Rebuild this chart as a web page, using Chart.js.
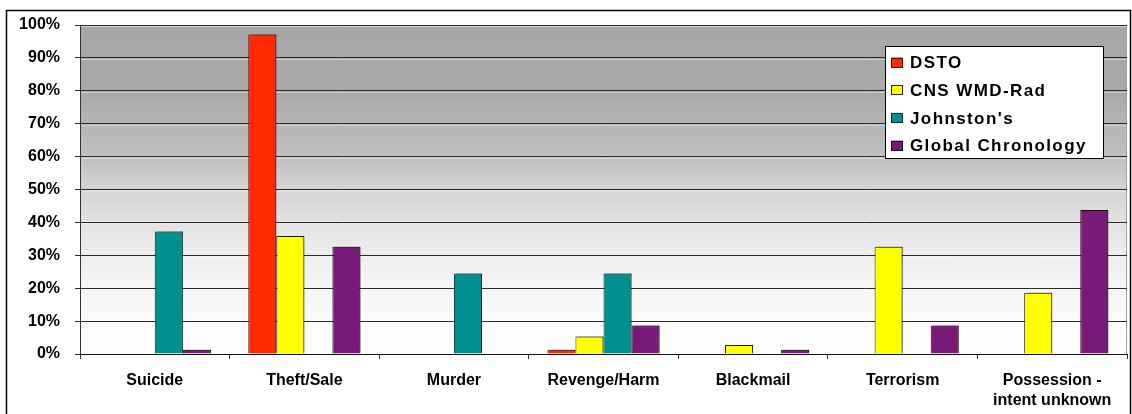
<!DOCTYPE html>
<html>
<head>
<meta charset="utf-8">
<script src="https://cdn.jsdelivr.net/npm/chart.js@4.4.1/dist/chart.umd.min.js"></script>
<style>
html,body{margin:0;padding:0;background:#fff;}
#wrap{position:relative;width:1132px;height:414px;}
</style>
</head>
<body>
<div id="wrap"><canvas id="c" width="1132" height="414"></canvas></div>
<script>
const categories = ['Suicide', 'Theft/Sale', 'Murder', 'Revenge/Harm', 'Blackmail', 'Terrorism', ['Possession -', 'intent unknown']];
const seriesNames = ['DSTO', 'CNS WMD-Rad', "Johnston's", 'Global Chronology'];
const dsto = [0, 97.1, 0, 1.3, 0, 0, 0];
const cnsWmdRad = [0, 35.9, 0, 5.3, 2.7, 32.6, 18.6];
const johnstons = [37.2, 0, 24.5, 24.5, 0, 0, 0];
const globalChronology = [1.3, 32.6, 0, 8.7, 1.3, 8.7, 43.8];
const yTicks = [0, 10, 20, 30, 40, 50, 60, 70, 80, 90, 100];

const fills = ['#ff2a00', '#ffff00', '#009090', '#7a1a78'];
const borders = ['#5a0800', '#2a2a00', '#003030', '#1a061a'];
const FONT = '"Liberation Sans", Arial, sans-serif';

const bgPlugin = {
  id: 'bg',
  beforeDraw(chart) {
    const {ctx, chartArea: a} = chart;
    ctx.save();
    const g = ctx.createLinearGradient(0, a.top, 0, a.bottom);
    g.addColorStop(0, '#a6a6a6');
    g.addColorStop(0.2, '#a9a9a9');
    g.addColorStop(0.4, '#c0c0c0');
    g.addColorStop(0.5, '#d4d4d4');
    g.addColorStop(0.6, '#e2e2e2');
    g.addColorStop(0.7, '#eeeeee');
    g.addColorStop(0.8, '#f6f6f6');
    g.addColorStop(0.9, '#fbfbfb');
    g.addColorStop(1, '#fefefe');
    ctx.fillStyle = g;
    ctx.fillRect(a.left, a.top, a.right - a.left, a.bottom - a.top);
    // light highlight below each gridline
    const ys = chart.scales.y;
    ctx.strokeStyle = 'rgba(255,255,255,0.5)';
    ctx.lineWidth = 1;
    yTicks.forEach(v => {
      if (v === 0) return;
      const y = ys.getPixelForValue(v) + 1.5;
      ctx.beginPath(); ctx.moveTo(a.left, y); ctx.lineTo(a.right, y); ctx.stroke();
    });
    // plot border (light)
    ctx.strokeStyle = '#a0a0a0';
    ctx.beginPath();
    ctx.moveTo(a.left, a.top + 0.5); ctx.lineTo(a.right - 0.5, a.top + 0.5); ctx.lineTo(a.right - 0.5, a.bottom);
    ctx.stroke();
    ctx.restore();
  },
  beforeDatasetsDraw(chart) {
    const ctx = chart.ctx;
    ctx.save();
    ctx.shadowColor = 'rgba(0,0,0,0.35)';
    ctx.shadowOffsetX = 2;
    ctx.shadowOffsetY = -1;
    ctx.shadowBlur = 0;
  },
  afterDatasetsDraw(chart) {
    chart.ctx.restore();
  },
  afterDraw(chart) {
    const ctx = chart.ctx;
    ctx.save();
    // outer border
    ctx.strokeStyle = '#000';
    ctx.lineWidth = 1.5;
    ctx.strokeRect(6.5, 10.5, 1124, 420);
    // legend
    const lx = 885.5, ly = 46.5, lw = 218, lh = 112;
    ctx.fillStyle = '#fff';
    ctx.fillRect(lx, ly, lw, lh);
    ctx.lineWidth = 1;
    ctx.strokeStyle = '#000';
    ctx.strokeRect(lx, ly, lw, lh);
    ctx.font = 'bold 17px ' + FONT;
    ctx.textBaseline = 'middle';
    ctx.textAlign = 'left';
    try { ctx.letterSpacing = '1.4px'; } catch (e) {}
    seriesNames.forEach((n, i) => {
      const cy = 62.5 + i * 27.7;
      ctx.fillStyle = fills[i];
      ctx.fillRect(891, cy - 5, 12, 10);
      ctx.strokeStyle = borders[i];
      ctx.lineWidth = 1;
      ctx.strokeRect(891.5, Math.round(cy - 5) + 0.5, 11, 9);
      ctx.fillStyle = '#000';
      ctx.fillText(n, 910, cy + 1);
    });
    ctx.restore();
  }
};

const series = [dsto, cnsWmdRad, johnstons, globalChronology];

new Chart(document.getElementById('c'), {
  type: 'bar',
  data: {
    labels: categories,
    datasets: series.map((d, i) => ({
      label: seriesNames[i],
      data: d,
      backgroundColor: fills[i],
      borderColor: borders[i],
      borderWidth: 1,
      borderSkipped: 'bottom',
      categoryPercentage: 0.75,
      barPercentage: 1.0
    }))
  },
  options: {
    responsive: false,
    animation: false,
    devicePixelRatio: 1,
    layout: { padding: { left: 0, top: 25, right: 5, bottom: 0 } },
    plugins: { legend: { display: false }, tooltip: { enabled: false } },
    scales: {
      x: {
        grid: { display: true, drawOnChartArea: false, offset: true, tickLength: 5, color: '#333' },
        border: { display: true, color: '#111', width: 1 },
        ticks: { color: '#000', font: { family: FONT, size: 16, weight: 'bold', lineHeight: 1.25 }, padding: 12, maxRotation: 0, autoSkip: false },
        afterFit(s) { s.height = 60; }
      },
      y: {
        min: 0, max: 100,
        afterBuildTicks(s) { s.ticks = yTicks.map(v => ({ value: v })); },
        grid: { color: '#2a2a2a', tickLength: 5, lineWidth: 1 },
        border: { display: true, color: '#333', width: 1 },
        ticks: { color: '#000', font: { family: FONT, size: 16, weight: 'bold' }, padding: 15, callback: v => v + '%' },
        afterFit(s) { s.width = 80; }
      }
    }
  },
  plugins: [bgPlugin]
});
</script>
</body>
</html>
